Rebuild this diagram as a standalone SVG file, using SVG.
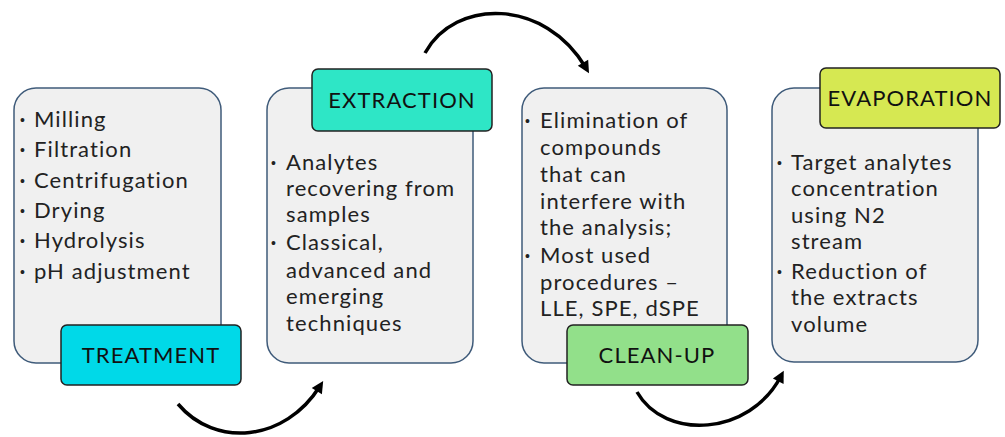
<svg xmlns="http://www.w3.org/2000/svg" width="1005" height="437" viewBox="0 0 1005 437">
<style>
.box{fill:#f0f0f0;stroke:#3f5b7a;stroke-width:1.5}
.lbl{stroke:#222;stroke-width:1.5}
.t{font-family:Lato,"Liberation Sans",sans-serif;font-size:22px;letter-spacing:1.1px;fill:#222}
.h{font-family:Lato,"Liberation Sans",sans-serif;font-size:22px;letter-spacing:1.1px;fill:#111;text-anchor:middle}
.b{font-family:"Liberation Sans",sans-serif;font-size:14px;fill:#222}
.arr{fill:none;stroke:#000;stroke-width:3.5}
</style>
<defs>
<marker id="ah" markerUnits="userSpaceOnUse" markerWidth="16" markerHeight="16" viewBox="0 0 16 16" refX="8" refY="8" orient="auto">
<path d="M2,2 L14,8 L2,14 Z" fill="#000"/>
</marker>
</defs>
<g id="connectors">
<path class="arr" d="M178,404 C215,448 285,442 320,386" marker-end="url(#ah)"/>
<path class="arr" d="M425,53 C455,-2 545,-2 586,68" marker-end="url(#ah)"/>
<path class="arr" d="M637,392 C665,441 750,436 781,376" marker-end="url(#ah)"/>
</g>
<g id="treatment">
<rect class="box" x="14" y="88" width="207" height="275" rx="22"/>
<text class="b" x="20" y="125">•</text><text class="b" x="20" y="155">•</text><text class="b" x="20" y="186">•</text><text class="b" x="20" y="216">•</text><text class="b" x="20" y="246">•</text><text class="b" x="20" y="277">•</text>
<text class="t" x="34" y="127">Milling</text>
<text class="t" x="34" y="157">Filtration</text>
<text class="t" x="34" y="188">Centrifugation</text>
<text class="t" x="34" y="218">Drying</text>
<text class="t" x="34" y="248">Hydrolysis</text>
<text class="t" x="34" y="279">pH adjustment</text>
<rect class="lbl" x="61" y="325" width="180" height="60" rx="6" fill="#00d9e8"/>
<text class="h" x="151" y="363">TREATMENT</text>
</g>
<g id="extraction">
<rect class="box" x="267" y="88" width="206" height="275" rx="22"/>
<rect class="lbl" x="312" y="69" width="180" height="62" rx="6" fill="#2ee6c6"/>
<text class="h" x="402" y="108">EXTRACTION</text>
<text class="b" x="271" y="168">•</text><text class="b" x="271" y="248">•</text>
<text class="t" x="286" y="170">Analytes</text>
<text class="t" x="286" y="196">recovering from</text>
<text class="t" x="286" y="222">samples</text>
<text class="t" x="286" y="250">Classical,</text>
<text class="t" x="286" y="278">advanced and</text>
<text class="t" x="286" y="304">emerging</text>
<text class="t" x="286" y="331">techniques</text>
</g>
<g id="cleanup">
<rect class="box" x="522" y="88" width="205" height="275" rx="22"/>
<text class="b" x="525" y="126">•</text><text class="b" x="525" y="261">•</text>
<text class="t" x="540" y="128">Elimination of</text>
<text class="t" x="540" y="155">compounds</text>
<text class="t" x="540" y="182">that can</text>
<text class="t" x="540" y="209">interfere with</text>
<text class="t" x="540" y="235">the analysis;</text>
<text class="t" x="540" y="263">Most used</text>
<text class="t" x="540" y="290">procedures –</text>
<text class="t" x="540" y="316">LLE, SPE, dSPE</text>
<rect class="lbl" x="567" y="325" width="181" height="60" rx="6" fill="#92e08a"/>
<text class="h" x="657" y="363">CLEAN-UP</text>
</g>
<g id="evaporation">
<rect class="box" x="772" y="88" width="206" height="274" rx="22"/>
<rect class="lbl" x="820" y="68" width="180" height="60" rx="6" fill="#d6e852"/>
<text class="h" x="910" y="106">EVAPORATION</text>
<text class="b" x="777" y="168">•</text><text class="b" x="777" y="277">•</text>
<text class="t" x="791" y="170">Target analytes</text>
<text class="t" x="791" y="196">concentration</text>
<text class="t" x="791" y="223">using N2</text>
<text class="t" x="791" y="249">stream</text>
<text class="t" x="791" y="279">Reduction of</text>
<text class="t" x="791" y="305">the extracts</text>
<text class="t" x="791" y="332">volume</text>
</g>
</svg>
